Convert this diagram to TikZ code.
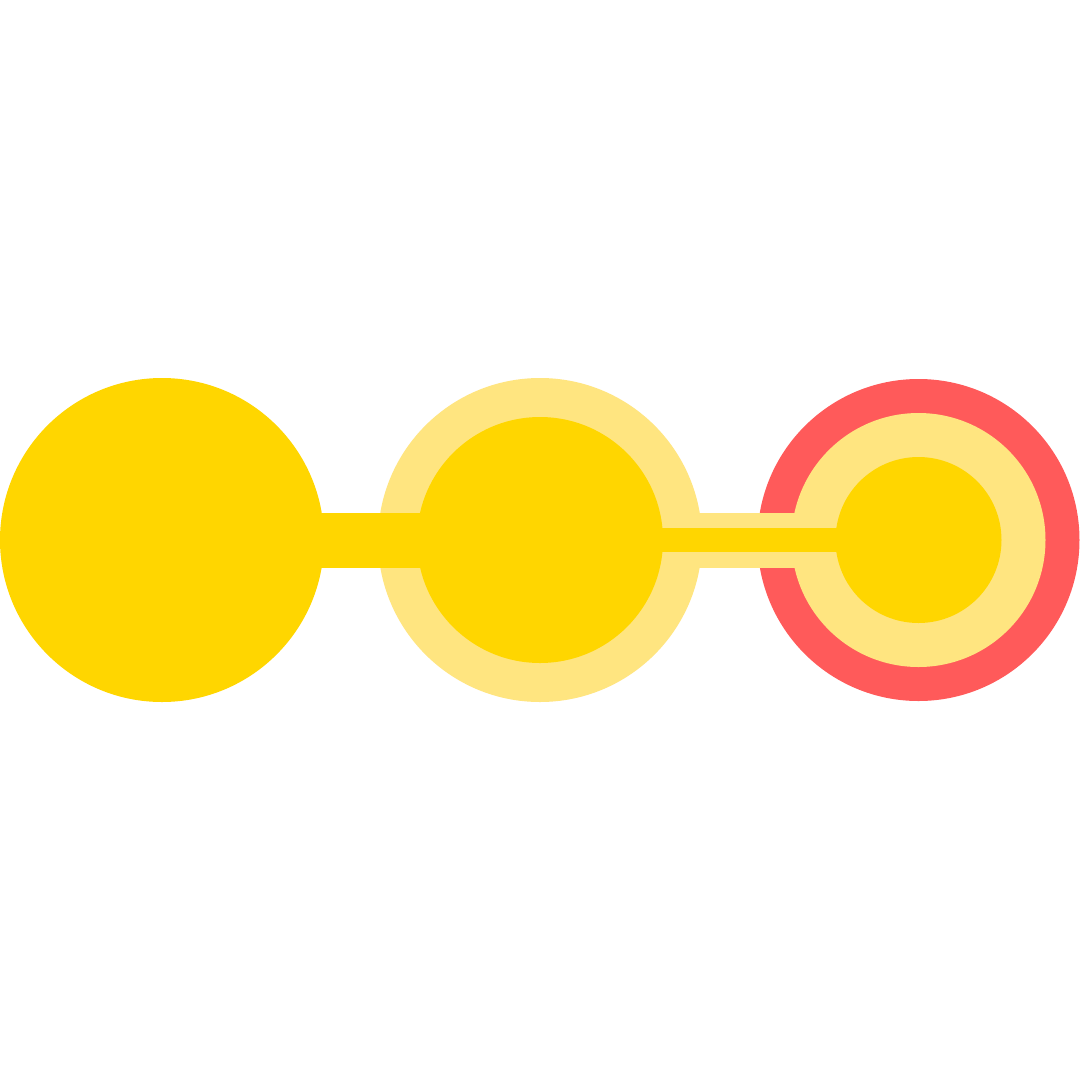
\documentclass[tikz,border=0pt]{standalone}
\definecolor{gold}{RGB}{255,214,0}
\definecolor{lightgold}{RGB}{255,229,128}
\definecolor{redring}{RGB}{255,90,90}
\begin{document}
\begin{tikzpicture}[x=1pt,y=-1pt,
  disc/.style={circle,draw=none,inner sep=0pt,outer sep=0pt,minimum size=#1}]
\useasboundingbox[fill=white] (0,0) rectangle (1080,1080);
\node[disc=324pt,fill=gold] (a) at (162,540) {};
\node[disc=324pt,fill=lightgold] (b) at (540,540) {};
\node[disc=322pt,fill=redring] (c) at (918.5,540) {};
\draw[lightgold,line width=55pt] (b.center) -- (c.center);
\node[disc=254pt,fill=lightgold] (cmid) at (c.center) {};
\node[disc=246pt,fill=gold] (binner) at (b.center) {};
\node[disc=166pt,fill=gold] (cinner) at (c.center) {};
\draw[gold,line width=55pt] (a.center) -- (binner.center);
\draw[gold,line width=24.5pt] (binner.center) -- (cinner.center);
\end{tikzpicture}
\end{document}
